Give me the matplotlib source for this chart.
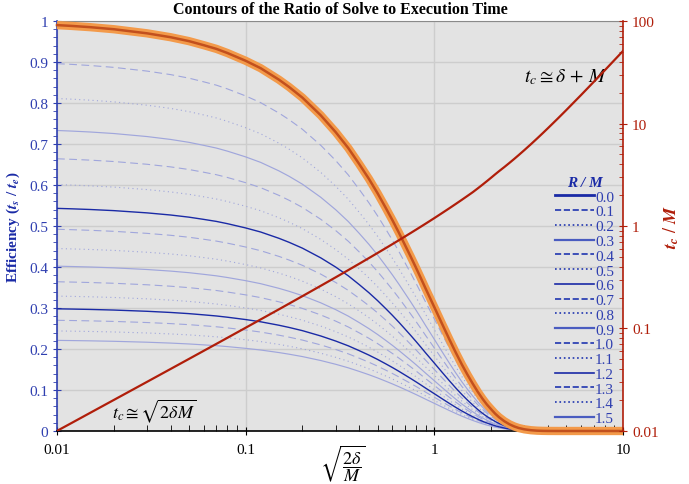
import matplotlib.pyplot as plt
from matplotlib.lines import Line2D
from matplotlib.ticker import FixedLocator, LogLocator, NullFormatter, MultipleLocator

# x = sqrt(2 delta / M)
x_vals = [0.01, 0.012, 0.015, 0.02, 0.03, 0.04, 0.05, 0.06, 0.07, 0.08,
          0.1, 0.12, 0.15, 0.17, 0.2, 0.25, 0.3, 0.35, 0.4, 0.45,
          0.5, 0.55, 0.6, 0.65, 0.7, 0.75, 0.8, 0.85, 0.9, 0.95,
          1.0, 1.1, 1.2, 1.3, 1.4, 1.5, 1.6, 1.7, 1.8, 1.9,
          2.0, 2.1, 2.2, 2.35, 2.5, 2.65, 2.8, 3.0, 3.25, 3.5,
          3.75, 4.0, 4.5, 5.0, 6.0, 7.0, 8.0, 10.0]
# efficiency for R/M = 0 (orange curve)
eff_base = [0.990, 0.988, 0.985, 0.980, 0.970, 0.9605, 0.951, 0.941, 0.932, 0.922,
            0.903, 0.885, 0.857, 0.839, 0.813, 0.770, 0.729, 0.690, 0.651, 0.615,
            0.580, 0.546, 0.514, 0.483, 0.453, 0.425, 0.398, 0.372, 0.347, 0.324,
            0.302, 0.261, 0.224, 0.191, 0.162, 0.137, 0.115, 0.0954, 0.0787, 0.0645,
            0.053, 0.0423, 0.0338, 0.0238, 0.0164, 0.0111, 0.0073, 0.0041, 0.0019, 0.0008,
            0.0003, 0.0001, 0.0, 0.0, 0.0, 0.0, 0.0, 0.0]
# t_c / M (red curve, right axis)
tc_ratio = [0.01002, 0.01202, 0.01504, 0.02007, 0.03015, 0.04027, 0.05042, 0.06061, 0.07083, 0.08108,
            0.1017, 0.1225, 0.1538, 0.1750, 0.2069, 0.2609, 0.3158, 0.3716, 0.4284, 0.4863,
            0.5451, 0.6050, 0.6660, 0.7280, 0.7912, 0.8555, 0.9209, 0.9875, 1.055, 1.124,
            1.194, 1.339, 1.488, 1.643, 1.803, 1.969, 2.140, 2.33, 2.53, 2.74,
            2.96, 3.19, 3.42, 3.76, 4.125, 4.51, 4.92, 5.5, 6.28, 7.125,
            8.03, 9.0, 11.125, 13.5, 19.0, 25.5, 33.0, 51.0]

# R/M contours and their efficiency at the left edge
rm_labels = ["0.0", "0.1", "0.2", "0.3", "0.4", "0.5", "0.6", "0.7", "0.8",
             "0.9", "1.0", "1.1", "1.2", "1.3", "1.4", "1.5"]
rm_levels = [0.990, 0.896, 0.811, 0.733, 0.664, 0.601, 0.543, 0.492, 0.445,
             0.402, 0.364, 0.329, 0.298, 0.270, 0.244, 0.221]

BG = "#e3e3e3"
GRID = "#cdcdcd"
BLUE = "#2f3fb0"
DARKBLUE = "#1a2aa6"
LIGHT = "#a0a6dc"
RED = "#b01e0a"

plt.rcParams["font.family"] = ["Liberation Serif", "DejaVu Serif"]
plt.rcParams["mathtext.fontset"] = "stix"

fig = plt.figure(figsize=(6.89, 4.85), dpi=100)
ax = fig.add_axes([0.0827, 0.1093, 0.8215, 0.8453])
ax.set_facecolor(BG)
ax.set_xscale("log")
ax.set_xlim(0.01, 10)
ax.set_ylim(0, 1)

ax.yaxis.set_minor_locator(MultipleLocator(0.02))
ax.set_yticks([i / 10 for i in range(11)])
ax.set_yticklabels(["0", "0.1", "0.2", "0.3", "0.4", "0.5", "0.6", "0.7",
                    "0.8", "0.9", "1"])
ax.xaxis.set_major_locator(FixedLocator([0.01, 0.1, 1, 10]))
ax.set_xticklabels(["0.01", "0.1", "1", "10"])
ax.xaxis.set_minor_locator(LogLocator(base=10, subs=range(2, 10)))
ax.xaxis.set_minor_formatter(NullFormatter())
ax.grid(True, which="major", color=GRID, linewidth=1.0)
ax.set_axisbelow(True)

ax.tick_params(axis="y", which="major", direction="inout", length=6,
               colors=BLUE, labelsize=11, labelcolor=BLUE)
ax.tick_params(axis="y", which="minor", direction="out", length=3, colors=BLUE)
ax.tick_params(axis="x", which="major", direction="inout", length=6,
               labelsize=11, pad=6)
ax.tick_params(axis="x", which="minor", direction="in", length=4)
ax.spines["left"].set_color(BLUE)
ax.spines["left"].set_linewidth(1.2)
ax.spines["bottom"].set_linewidth(1.2)
ax.spines["top"].set_color("#8a8a8a")
ax.spines["right"].set_visible(False)

handles = []
base0 = eff_base[0]
for i, (lab, lev) in enumerate(zip(rm_labels, rm_levels)):
    style = ["-", "--", ":"][i % 3]
    if i == 0:
        hcol, hlw = DARKBLUE, 2.0
    elif style == "-" and i % 6 == 0:
        hcol, hlw = DARKBLUE, 1.2
    elif style == "-":
        hcol, hlw = "#4a5cc0", 1.6
    else:
        hcol, hlw = "#2035b0", 1.2
    handles.append(Line2D([], [], color=hcol, lw=hlw, ls=style, label=lab))
    if i == 0:
        continue
    yv = [e * lev / base0 for e in eff_base]
    if style == "-" and i % 6 == 0:
        ax.plot(x_vals, yv, color=DARKBLUE, lw=1.0, zorder=3)
    elif style == "-":
        ax.plot(x_vals, yv, color=LIGHT, lw=0.85, zorder=2)
    else:
        ax.plot(x_vals, yv, color=LIGHT, lw=0.8, ls=style, zorder=2,
                dashes=(7, 4) if style == "--" else (1, 3))

ax.plot(x_vals, eff_base, color="#f39a4a", lw=6, solid_capstyle="butt", zorder=4,
        clip_on=False)
ax.plot(x_vals, eff_base, color="#c2501e", lw=1.8, zorder=5, clip_on=False)

ax.set_ylabel(r"Efficiency ($\mathbfit{t_s}$ / $\mathbfit{t_e}$)", color=DARKBLUE,
              fontsize=11, fontweight="bold", labelpad=5)
ax.set_xlabel(r"$\sqrt{\dfrac{2\delta}{M}}$", fontsize=13)
ax.xaxis.set_label_coords(0.505, -0.027)
ax.set_title("Contours of the Ratio of Solve to Execution Time",
             fontsize=11.5, fontweight="bold", pad=6)

ax2 = ax.twinx()
ax2.set_yscale("log")
ax2.set_ylim(0.01, 100)
ax2.plot(x_vals, tc_ratio, color=RED, lw=1.6, zorder=6)
ax2.yaxis.set_major_locator(FixedLocator([0.01, 0.1, 1, 10, 100]))
ax2.set_yticklabels(["0.01", "0.1", "1", "10", "100"])
ax2.yaxis.set_minor_locator(LogLocator(base=10, subs=range(2, 10)))
ax2.yaxis.set_minor_formatter(NullFormatter())
ax2.tick_params(axis="y", which="major", direction="inout", length=6,
                colors=RED, labelsize=11, labelcolor=RED)
ax2.tick_params(axis="y", which="minor", direction="in", length=3, colors=RED)
for s in ["left", "top", "bottom"]:
    ax2.spines[s].set_visible(False)
ax2.spines["right"].set_color(RED)
ax2.spines["right"].set_linewidth(1.2)
ax2.set_ylabel(r"$\mathbfit{t_c}$ / $\mathbfit{M}$", color=RED, fontsize=13,
               fontweight="bold", labelpad=2)

ax2.text(0.825, 0.865, r"$t_c \cong \delta\, +\, M$", transform=ax2.transAxes,
         fontsize=14, ha="left", va="center")
ax2.text(0.098, 0.05, r"$t_c \cong \sqrt{2\delta M}$", transform=ax2.transAxes,
         fontsize=13, ha="left", va="center")

leg = ax2.legend(handles=handles, loc="upper right", bbox_to_anchor=(0.995, 0.637),
                 frameon=False, title="R / M", fontsize=11, labelspacing=0.07,
                 handlelength=2.5, handletextpad=0.1, borderaxespad=0)
leg.get_title().set_color(DARKBLUE)
leg.get_title().set_fontweight("bold")
leg.get_title().set_fontstyle("italic")
leg.get_title().set_fontsize(11)
for t in leg.get_texts():
    t.set_color(BLUE)

fig.savefig("out.png", dpi=100)
